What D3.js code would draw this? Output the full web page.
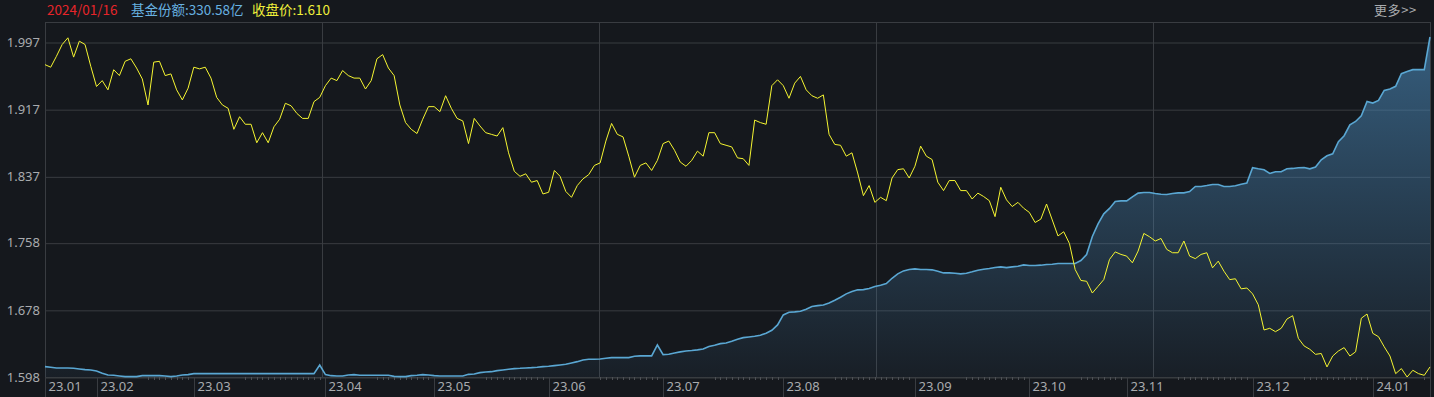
<!DOCTYPE html>
<html>

<head>
    <meta charset="utf-8">
    <style>
        body {
            margin: 0;
            background-color: #15181d;
            font-family: 'Noto Sans CJK SC', 'Noto Sans', sans-serif;
        }

        svg {
            display: block;
        }
    </style>
</head>

<body>
    <svg width="1434" height="397"></svg>
</body>

<script src="https://d3js.org/d3.v7.min.js"></script>

<script>
    // closing price, one value per trading day
    let price = [
        1.970, 1.967, 1.980, 1.994, 2.002, 1.979, 1.998, 1.994, 1.968, 1.944,
        1.951, 1.940, 1.964, 1.957, 1.974, 1.977, 1.966, 1.953, 1.922, 1.973,
        1.974, 1.957, 1.959, 1.940, 1.928, 1.942, 1.967, 1.965, 1.967, 1.954,
        1.931, 1.922, 1.918, 1.893, 1.908, 1.899, 1.899, 1.877, 1.889, 1.877,
        1.896, 1.905, 1.924, 1.921, 1.912, 1.906, 1.906, 1.926, 1.931, 1.945,
        1.954, 1.951, 1.963, 1.957, 1.954, 1.954, 1.941, 1.951, 1.977, 1.982,
        1.966, 1.957, 1.922, 1.901, 1.893, 1.888, 1.905, 1.920, 1.920, 1.914,
        1.933, 1.918, 1.906, 1.903, 1.876, 1.906, 1.897, 1.889, 1.887, 1.885,
        1.895, 1.865, 1.843, 1.837, 1.840, 1.830, 1.832, 1.816, 1.818, 1.844,
        1.837, 1.819, 1.812, 1.826, 1.834, 1.839, 1.850, 1.853, 1.879,
        1.900, 1.887, 1.884, 1.861, 1.836, 1.850, 1.853, 1.844, 1.856, 1.876,
        1.879, 1.868, 1.854, 1.849, 1.856, 1.867, 1.861, 1.889, 1.889, 1.876,
        1.874, 1.872, 1.859, 1.858, 1.850, 1.904, 1.901, 1.899, 1.945, 1.952,
        1.945, 1.930, 1.948, 1.956, 1.940, 1.933, 1.930, 1.934, 1.887, 1.875,
        1.874, 1.861, 1.865, 1.841, 1.814, 1.826, 1.806, 1.812, 1.808,
        1.835, 1.845, 1.846, 1.835, 1.849, 1.873, 1.861, 1.857, 1.830, 1.820,
        1.832, 1.832, 1.820, 1.820, 1.810, 1.817, 1.813, 1.808, 1.789, 1.824,
        1.809, 1.801, 1.806, 1.799, 1.794, 1.782, 1.786, 1.804, 1.785, 1.766,
        1.771, 1.757, 1.726, 1.713, 1.712, 1.698, 1.706, 1.714, 1.738, 1.747,
        1.744, 1.742, 1.734, 1.748, 1.769, 1.765, 1.760, 1.763,
        1.750, 1.746, 1.746, 1.760, 1.742, 1.739, 1.744, 1.746, 1.728, 1.736,
        1.724, 1.714, 1.715, 1.703, 1.704, 1.697, 1.684, 1.654, 1.656, 1.652,
        1.656, 1.667, 1.671, 1.644, 1.635, 1.631, 1.625, 1.626, 1.610, 1.623,
        1.629, 1.633, 1.623, 1.628, 1.668, 1.673, 1.650, 1.646, 1.634, 1.623,
        1.602, 1.608, 1.598, 1.606, 1.602, 1.600, 1.610
    ]

    // fund shares (亿份)
    let shares = [
        83.6, 83.1, 82.6, 82.6, 82.6, 82.3, 81.8, 81.3, 81.1, 80.3,
        78.6, 77.3, 77.1, 76.6, 76.1, 76.1, 76.1, 76.8, 76.8, 76.8,
        76.8, 76.6, 76.1, 76.6, 77.3, 77.6, 78.3, 78.3, 78.3, 78.3,
        78.3, 78.3, 78.3, 78.3, 78.3, 78.3, 78.3, 78.3, 78.3, 78.3,
        78.3, 78.3, 78.3, 78.3, 78.3, 78.3, 78.3, 78.3, 84.8, 77.6,
        76.8, 76.6, 76.6, 77.3, 77.6, 77.1, 77.1, 77.1, 77.1, 77.1,
        77.1, 76.3, 76.1, 76.1, 76.8, 77.1, 77.6, 77.3, 76.8, 76.6,
        76.6, 76.6, 76.6, 76.6, 77.8, 78.1, 79.1, 79.6, 79.8, 80.6,
        81.1, 81.6, 82.1, 82.3, 82.6, 82.8, 83.1, 83.6, 83.8, 84.3,
        84.8, 85.3, 86.3, 87.3, 88.6, 89.1, 89.1, 89.3, 89.8,
        90.3, 90.3, 90.3, 90.3, 91.3, 91.6, 91.6, 91.6, 99.8, 92.6, 92.8,
        93.8, 94.6, 95.3, 95.6, 96.1, 96.8, 98.6, 99.6, 100.8, 101.3,
        102.6, 104.1, 105.3, 105.8, 106.3, 107.1, 108.6, 110.8, 114.8, 122.3,
        124.3, 124.6, 125.1, 126.6, 128.6, 129.3, 129.8, 131.3, 133.3, 135.6,
        138.1, 139.8, 141.1, 141.3, 142.1, 143.6, 144.6, 145.8,
        149.8, 153.1, 155.3, 156.3, 156.8, 156.3, 156.3, 156.1, 155.1, 153.8,
        153.8, 153.6, 153.1, 153.6, 154.6, 155.8, 156.6, 157.1, 157.8, 158.3,
        157.8, 158.3, 158.8, 159.8, 159.3, 159.3, 159.6, 160.1, 160.3, 160.8,
        160.8, 160.8, 160.8, 163.1, 167.6, 181.1, 190.6, 198.1, 202.1, 207.3,
        207.8, 207.8, 210.8, 213.6, 214.1, 214.1, 213.3, 212.8, 212.6, 213.3,
        213.8, 213.8, 214.8, 218.6, 218.6, 219.3, 220.1, 220.1, 218.6, 218.6,
        219.1, 220.3, 221.1, 232.6, 231.8, 231.1, 228.3, 229.6, 229.6, 231.8,
        232.1, 232.6, 232.8, 231.8, 233.1, 238.6, 241.6, 243.1, 252.1, 256.6,
        264.8, 267.3, 271.6, 282.3, 281.1, 283.1, 290.6, 291.6, 293.6, 303.1,
        304.8, 306.1, 306.1, 306.1, 330.58
    ]

    let monthLabels = ["23.01", "23.02", "23.03", "23.04", "23.05", "23.06", "23.07",
        "23.08", "23.09", "23.10", "23.11", "23.12", "24.01"]
    // index of the first trading day of each month
    let monthStart = [0, 9, 26, 49, 68, 88, 108, 129, 152, 172, 189, 211, 232]

    let priceTicks = [1.598, 1.678, 1.758, 1.837, 1.917, 1.997]

    let lastDate = "2024/01/16"

    let width = 1434;
    let height = 397;
    let margin = { top: 22, right: 4, bottom: 20, left: 45 };
    let plotBottom = height - margin.bottom;
    let plotRight = width - margin.right;
    let gridColor = "#393c41";

    let svg = d3.select("svg")

    let x = d3.scaleLinear()
        .domain([0, price.length - 1])
        .range([margin.left, plotRight])

    let y = d3.scaleLinear()
        .domain([1.598, 1.997])
        .range([plotBottom, 42])

    let ys = d3.scaleLinear()
        .domain([75.8, d3.max(shares)])
        .range([plotBottom, 37])

    // gradient for the shares area
    let grad = svg.append("defs").append("linearGradient")
        .attr("id", "shareFill")
        .attr("gradientUnits", "userSpaceOnUse")
        .attr("x1", 0).attr("y1", 37)
        .attr("x2", 0).attr("y2", plotBottom)
    grad.append("stop").attr("offset", 0).attr("stop-color", "#4a88b8").attr("stop-opacity", 0.62)
    grad.append("stop").attr("offset", 1).attr("stop-color", "#4a88b8").attr("stop-opacity", 0.06)

    // frame
    svg.append("rect")
        .attr("x", margin.left + 0.5)
        .attr("y", margin.top + 0.5)
        .attr("width", plotRight - margin.left)
        .attr("height", plotBottom - margin.top)
        .style("fill", "none")
        .style("stroke", gridColor)

    svg.append("line")
        .attr("x1", margin.left + 0.5).attr("x2", margin.left + 0.5)
        .attr("y1", plotBottom).attr("y2", height)
        .style("stroke", gridColor)
    svg.append("line")
        .attr("x1", plotRight + 0.5).attr("x2", plotRight + 0.5)
        .attr("y1", plotBottom).attr("y2", height)
        .style("stroke", gridColor)

    // y axis + horizontal grid
    let yAxis = svg.append("g")
        .attr("transform", `translate(${margin.left},0)`)
        .call(d3.axisLeft(y)
            .tickValues(priceTicks)
            .tickFormat(d3.format(".3f"))
            .tickSize(-(plotRight - margin.left))
            .tickPadding(5))
    yAxis.select(".domain").remove()
    yAxis.selectAll("line")
        .style("stroke", gridColor)
        .attr("transform", "translate(0,0.5)")
    yAxis.selectAll("text")
        .style("fill", "#a9abae")
        .style("font-size", "13px")
        .style("font-family", "'Noto Sans', sans-serif")

    // vertical grid, five equal columns
    svg.append("g")
        .selectAll("line")
        .data([1, 2, 3, 4])
        .join("line")
        .attr("x1", d => Math.round(margin.left + (plotRight - margin.left) * d / 5) + 0.5)
        .attr("x2", d => Math.round(margin.left + (plotRight - margin.left) * d / 5) + 0.5)
        .attr("y1", margin.top)
        .attr("y2", plotBottom)
        .style("stroke", gridColor)

    // month separators and labels
    let months = svg.append("g")
        .selectAll("g")
        .data(monthStart)
        .join("g")
        .attr("transform", d => `translate(${Math.round(x(d)) + 0.5},0)`)
    months.append("line")
        .attr("y1", plotBottom)
        .attr("y2", height)
        .style("stroke", gridColor)
    months.append("text")
        .attr("x", 3)
        .attr("y", 391)
        .text((d, i) => monthLabels[i])
        .style("fill", "#a9abae")
        .style("font-size", "13px")
        .style("font-family", "'Noto Sans', sans-serif")

    // small day ticks between the labels
    let dayTicks = d3.range(price.length).filter(i => {
        let m = d3.bisectRight(monthStart, i) - 1
        let next = m + 1 < monthStart.length ? x(monthStart[m + 1]) : plotRight
        return x(i) > x(monthStart[m]) + 50 && x(i) < next - 5
    })
    svg.append("g")
        .selectAll("line")
        .data(dayTicks)
        .join("line")
        .attr("x1", d => Math.round(x(d)) + 0.5)
        .attr("x2", d => Math.round(x(d)) + 0.5)
        .attr("y1", plotBottom)
        .attr("y2", plotBottom + 3)
        .style("stroke", "#4d5055")

    // shares area + line
    let area = d3.area()
        .x((d, i) => x(i))
        .y0(plotBottom)
        .y1(d => ys(d))
    svg.append("path")
        .datum(shares)
        .attr("d", area)
        .style("fill", "url(#shareFill)")

    svg.append("path")
        .datum(shares)
        .attr("d", d3.line().x((d, i) => x(i)).y(d => ys(d)))
        .style("fill", "none")
        .style("stroke", "#5aa7d3")
        .style("stroke-width", 1.6)

    // price line
    svg.append("path")
        .datum(price)
        .attr("d", d3.line().x((d, i) => x(i)).y(d => y(d)))
        .style("fill", "none")
        .style("stroke", "#f5f531")
        .style("stroke-width", 1)

    // header
    let header = svg.append("g")
        .style("font-size", "13.5px")
    header.append("text")
        .attr("x", 47)
        .attr("y", 15)
        .text(lastDate)
        .style("fill", "#e5252a")
    header.append("text")
        .attr("x", 131)
        .attr("y", 15)
        .text("基金份额:" + d3.format(".2f")(shares[shares.length - 1]) + "亿")
        .style("fill", "#67b1e0")
    header.append("text")
        .attr("x", 252)
        .attr("y", 15)
        .text("收盘价:" + d3.format(".3f")(price[price.length - 1]))
        .style("fill", "#f0f03a")

    svg.append("text")
        .attr("x", 1374)
        .attr("y", 15)
        .text("更多>>")
        .style("fill", "#a9abae")
        .style("font-size", "13px")
        .style("letter-spacing", "0.6px")
</script>

</html>
